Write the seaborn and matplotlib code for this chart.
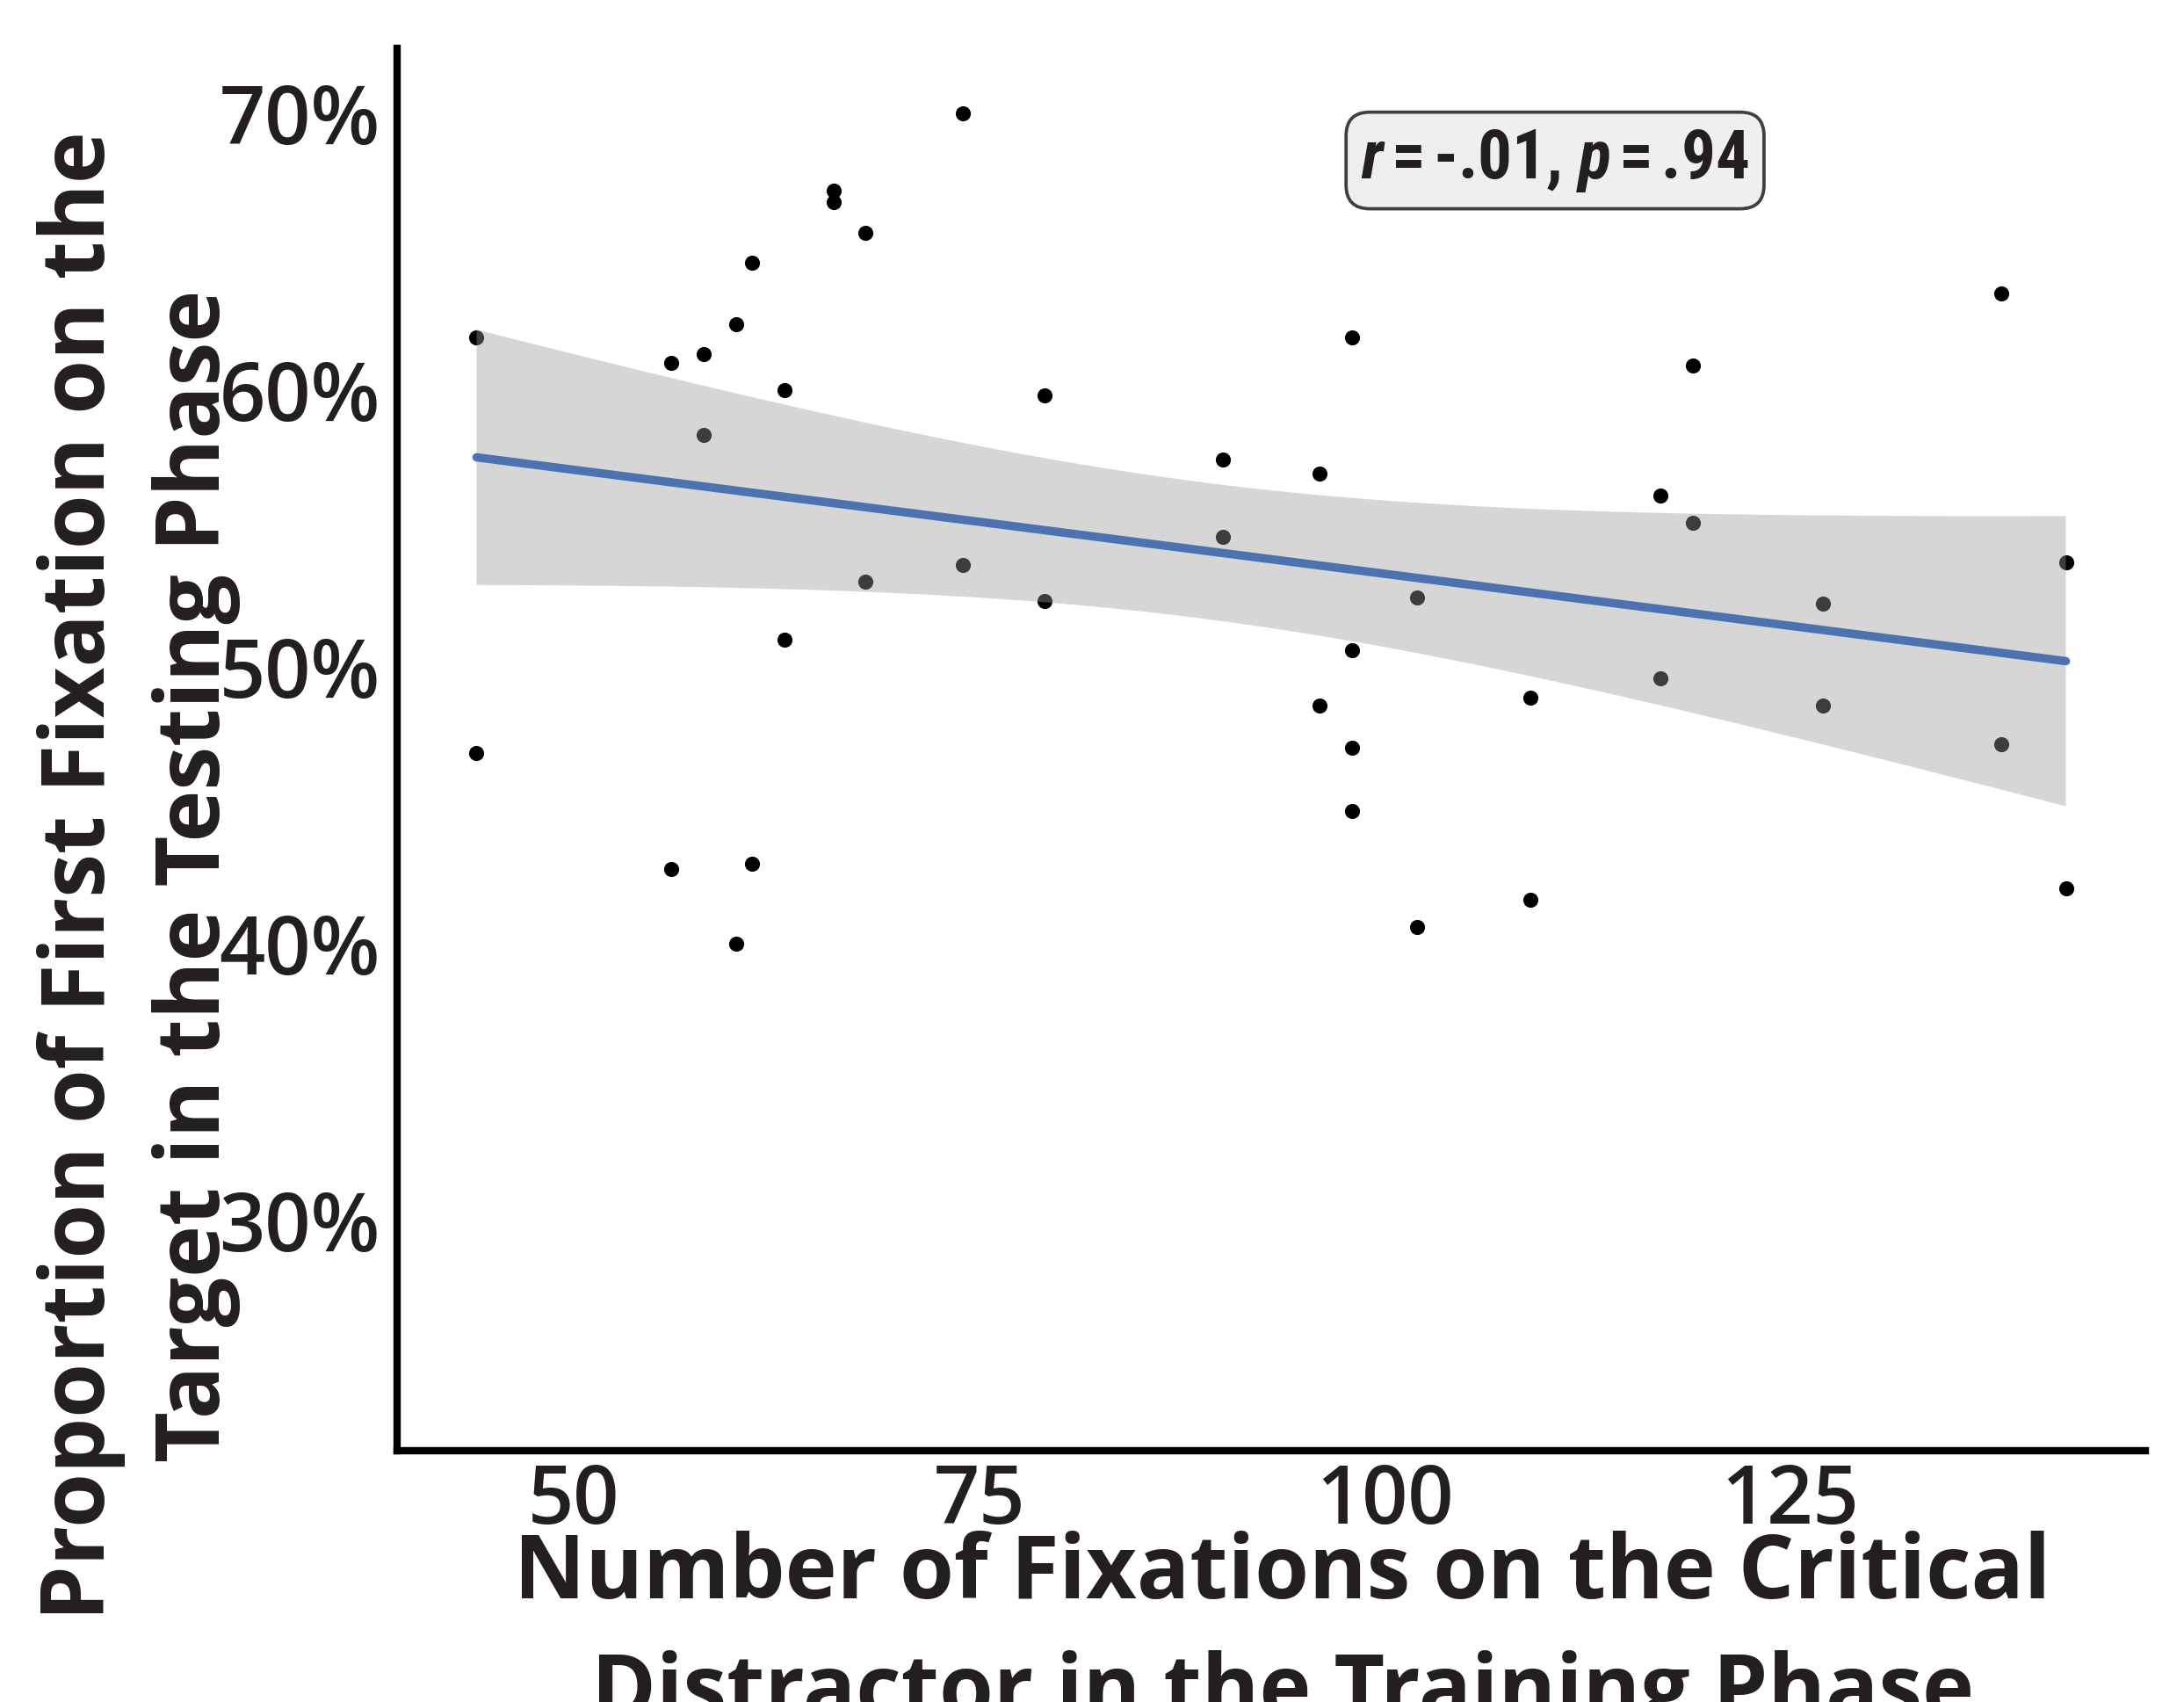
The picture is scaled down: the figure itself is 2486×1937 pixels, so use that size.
import numpy as np
import pandas as pd
import matplotlib
matplotlib.use("Agg")
import matplotlib.pyplot as plt
from matplotlib import font_manager
from matplotlib.ticker import PercentFormatter
import seaborn as sns

# ---- data ----
fixations = [44, 44, 56, 56, 58, 58, 60, 60, 61, 61, 63, 63, 66, 66, 68, 68,
             74, 74, 79, 79, 90, 90, 96, 96, 98, 98, 98, 98, 102, 102, 109, 109,
             117, 117, 119, 119, 127, 127, 138, 138, 142, 142]
proportion = [0.619, 0.469, 0.610, 0.427, 0.613, 0.584, 0.624, 0.400, 0.646, 0.429,
              0.600, 0.510, 0.672, 0.668, 0.657, 0.531, 0.700, 0.537, 0.598, 0.524,
              0.575, 0.547, 0.570, 0.486, 0.619, 0.506, 0.471, 0.448, 0.525, 0.406,
              0.489, 0.416, 0.562, 0.496, 0.609, 0.552, 0.523, 0.486, 0.635, 0.472,
              0.538, 0.420]
x_ticks = [50, 75, 100, 125]
y_ticks = [0.30, 0.40, 0.50, 0.60, 0.70]
x_title = "Number of Fixations on the Critical\nDistractor in the Training Phase"
y_title = "Proportion of First Fixation on the\nTarget in the Testing Phase"
stat_text = r"$\mathit{r}\,$=$\,$-.01, $\mathit{p}\,$=$\,$.94"

df = pd.DataFrame({"fixations": fixations, "proportion": proportion})

sns.set_theme(style="white")
fonts = font_manager.fontManager.ttflist
names = {f.name for f in fonts}
base_font = "Open Sans" if "Open Sans" in names else "DejaVu Sans"
cond_font = base_font
for cand in ["Roboto Condensed", "Open Sans Condensed", "Liberation Sans Narrow",
             "DejaVu Sans Condensed", "Noto Sans Condensed"]:
    if cand in names:
        cond_font = cand
        break
weights = {f.weight for f in fonts if f.name == base_font}
tick_weight = 500 if 500 in weights else (600 if 600 in weights else "normal")

plt.rcParams["font.family"] = [base_font, "DejaVu Sans"]
plt.rcParams["mathtext.fontset"] = "custom"
plt.rcParams["mathtext.it"] = f"{cond_font}:italic:bold"
plt.rcParams["mathtext.rm"] = f"{cond_font}:bold"

TXT = "#231f20"

fig = plt.figure(figsize=(2487 / 300, 1937 / 300), dpi=300)
ax = fig.add_axes([452 / 2487, 1 - 1651 / 1937, (2442 - 452) / 2487, (1651 - 55) / 1937])

sns.scatterplot(data=df, x="fixations", y="proportion", ax=ax, color="black",
                s=17, linewidth=0, zorder=1)

# linear fit line drawn by seaborn
sns.regplot(data=df, x="fixations", y="proportion", ax=ax, scatter=False,
            color="#4C72B0", ci=None, line_kws={"linewidth": 2.3, "zorder": 3})

# 95% confidence band of the linear fit (t-based, as in the original figure)
xv = df["fixations"].to_numpy(float)
yv = df["proportion"].to_numpy(float)
n = len(xv)
b1, b0 = np.polyfit(xv, yv, 1)
resid = yv - (b0 + b1 * xv)
s_err = np.sqrt(np.sum(resid ** 2) / (n - 2))
t_crit = 2.021  # t quantile 0.975, df = 40
grid = np.linspace(xv.min(), xv.max(), 100)
se = s_err * np.sqrt(1 / n + (grid - xv.mean()) ** 2 / np.sum((xv - xv.mean()) ** 2))
fit = b0 + b1 * grid
ax.fill_between(grid, fit - t_crit * se, fit + t_crit * se, facecolor="#999999",
                alpha=0.4, edgecolor="none", zorder=2)

ax.set_xlim(39.1, 146.9)
ax.set_ylim(0.217, 0.7235)
ax.set_xticks(x_ticks)
ax.set_yticks(y_ticks)
ax.yaxis.set_major_formatter(PercentFormatter(1.0, decimals=0))
ax.set_xlabel("")
ax.set_ylabel("")

for side in ["top", "right"]:
    ax.spines[side].set_visible(False)
for side in ["left", "bottom"]:
    ax.spines[side].set_linewidth(2.0)
    ax.spines[side].set_color("black")
ax.tick_params(axis="both", which="major", length=1.6, width=1.7, color="black",
               labelsize=22, labelcolor=TXT, direction="out")
ax.tick_params(axis="y", pad=3.0)
ax.tick_params(axis="x", pad=1.5)
for lab in ax.get_xticklabels() + ax.get_yticklabels():
    lab.set_fontweight(tick_weight)

fig.text(1460 / 2487, 1 - 1742 / 1937, x_title, ha="center", va="top",
         fontsize=24, fontweight="bold", color=TXT, linespacing=1.45)
fig.text(158 / 2487, 1 - 997 / 1937, y_title, ha="center", va="center", rotation=90,
         fontsize=24, fontweight="bold", color=TXT, linespacing=1.4)

ax.text(110.5, 0.683, stat_text, ha="center", va="center", fontsize=18.5,
        fontfamily=cond_font, fontweight="bold", color=TXT,
        bbox=dict(boxstyle="round,pad=0.22,rounding_size=0.35", facecolor="#efefef",
                  edgecolor="#404040", linewidth=0.9), zorder=5)

fig.savefig("out.png", dpi=300)
